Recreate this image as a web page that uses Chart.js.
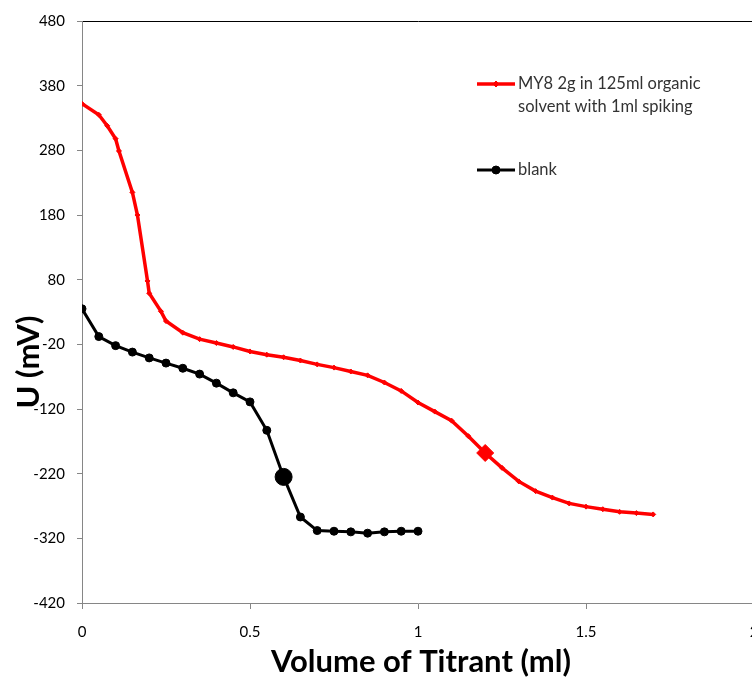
<!DOCTYPE html>
<html>
<head>
<meta charset="utf-8">
<script src="https://cdn.jsdelivr.net/npm/chart.js@4.4.1/dist/chart.umd.min.js"></script>
<style>
  html, body { margin: 0; padding: 0; overflow: hidden; background: #fff; }
  #wrap { width: 780px; height: 682px; }
</style>
</head>
<body>
<div id="wrap"><canvas id="c" width="780" height="682"></canvas></div>
<script>
// Potentiometric titration curves: sample vs. blank
const sampleVolume = [0, 0.05, 0.075, 0.1, 0.11, 0.15, 0.165, 0.195, 0.2, 0.235, 0.25,
  0.3, 0.35, 0.4, 0.45, 0.5, 0.55, 0.6, 0.65, 0.7, 0.75, 0.8, 0.85, 0.9, 0.95,
  1.0, 1.05, 1.1, 1.15, 1.2, 1.25, 1.3, 1.35, 1.4, 1.45, 1.5, 1.55, 1.6, 1.65, 1.7];
const samplePotential = [352, 335, 318, 298, 279, 215, 180, 78, 59, 31, 16,
  -2, -12, -18, -24, -31, -36, -40, -45, -51, -56, -62, -68, -79, -92,
  -110, -124, -138, -162, -188, -211, -232, -247, -257, -266, -271, -275, -279, -281, -283];

const blankVolume = [0, 0.05, 0.1, 0.15, 0.2, 0.25, 0.3, 0.35, 0.4, 0.45, 0.5,
  0.55, 0.6, 0.65, 0.7, 0.75, 0.8, 0.85, 0.9, 0.95, 1.0];
const blankPotential = [35, -8, -22, -32, -41, -49, -57, -66, -80, -95, -109,
  -153, -225, -287, -308, -309, -310, -312, -310, -309, -309];

// equivalence points (drawn with enlarged markers)
const sampleEndpoint = 1.2;
const blankEndpoint = 0.6;

const xRange = { min: 0, max: 2, step: 0.5 };
const yRange = { min: -420, max: 480, step: 100 };

const sampleLabel = ['MY8 2g in 125ml organic', 'solvent with 1ml spiking'];
const blankLabel = 'blank';
const xTitle = 'Volume of Titrant (ml)';
const yTitle = 'U (mV)';

const toPoints = (xs, ys) => xs.map((x, i) => ({ x: x, y: ys[i] }));

const AXIS_GREY = '#868686';
const FONT = 'Lato';

// axis titles and the in-plot legend
const decorations = {
  id: 'decorations',
  afterDraw(chart) {
    const ctx = chart.ctx;
    const area = chart.chartArea;
    ctx.save();
    ctx.fillStyle = '#000';
    ctx.font = 'bold 31px ' + FONT;
    ctx.textAlign = 'center';
    ctx.textBaseline = 'middle';
    ctx.fillText(xTitle, (area.left + area.right) / 2 + 3, 662);
    ctx.save();
    ctx.translate(29, 362);
    ctx.rotate(-Math.PI / 2);
    ctx.fillText(yTitle, 0, 0);
    ctx.restore();

    const entries = [
      { ds: chart.data.datasets[0], y: 84, lines: sampleLabel, style: 'rectRot', r: 3 },
      { ds: chart.data.datasets[1], y: 170, lines: [blankLabel], style: 'circle', r: 4 }
    ];
    ctx.font = '16.5px ' + FONT;
    ctx.textAlign = 'left';
    entries.forEach(e => {
      ctx.strokeStyle = e.ds.borderColor;
      ctx.lineWidth = e.ds.borderWidth;
      ctx.beginPath();
      ctx.moveTo(477, e.y);
      ctx.lineTo(515, e.y);
      ctx.stroke();
      ctx.fillStyle = e.ds.pointBackgroundColor;
      ctx.lineWidth = 1;
      Chart.helpers.drawPoint(ctx, { pointStyle: e.style, radius: e.r, borderWidth: 1 }, 496, e.y);
      ctx.fillStyle = '#333';
      e.lines.forEach((t, i) => ctx.fillText(t, 518, e.y + i * 23));
    });
    ctx.restore();
  }
};

new Chart(document.getElementById('c'), {
  type: 'scatter',
  data: {
    datasets: [
      {
        label: sampleLabel.join(' '),
        data: toPoints(sampleVolume, samplePotential),
        showLine: true,
        borderColor: '#ff0000',
        backgroundColor: '#ff0000',
        pointBackgroundColor: '#ff0000',
        pointBorderColor: '#ff0000',
        borderWidth: 3.5,
        pointStyle: 'rectRot',
        pointRadius: c => (c.raw && c.raw.x === sampleEndpoint ? 8.5 : 2.5),
        pointBorderWidth: 1,
        tension: 0
      },
      {
        label: blankLabel,
        data: toPoints(blankVolume, blankPotential),
        showLine: true,
        borderColor: '#000000',
        backgroundColor: '#000000',
        pointBackgroundColor: '#000000',
        pointBorderColor: '#000000',
        borderWidth: 3,
        pointStyle: 'circle',
        pointRadius: c => (c.raw && c.raw.x === blankEndpoint ? 8.5 : 4),
        pointBorderWidth: 1,
        tension: 0
      }
    ]
  },
  options: {
    responsive: false,
    animation: false,
    devicePixelRatio: 1,
    layout: { padding: { top: 15, left: 0, right: 26, bottom: 0 } },
    plugins: { legend: { display: false }, tooltip: { enabled: false } },
    scales: {
      x: {
        type: 'linear',
        min: xRange.min,
        max: xRange.max,
        afterFit: s => { s.height = 79; },
        ticks: {
          stepSize: xRange.step,
          callback: v => String(v),
          color: '#000',
          font: { family: FONT, size: 15 },
          padding: 14,
          maxRotation: 0
        },
        grid: { drawOnChartArea: false, tickLength: 6, color: AXIS_GREY, tickColor: AXIS_GREY },
        border: { color: AXIS_GREY, width: 1 }
      },
      y: {
        type: 'linear',
        min: yRange.min,
        max: yRange.max,
        afterFit: s => { s.width = 82; },
        ticks: { stepSize: yRange.step, color: '#000', font: { family: FONT, size: 15 }, padding: 12 },
        grid: {
          drawOnChartArea: true,
          tickLength: 5,
          color: c => (c.tick && c.tick.value === yRange.max ? '#000' : 'rgba(0,0,0,0)'),
          tickColor: AXIS_GREY
        },
        border: { color: AXIS_GREY, width: 1 }
      }
    }
  },
  plugins: [decorations]
});
</script>
</body>
</html>
